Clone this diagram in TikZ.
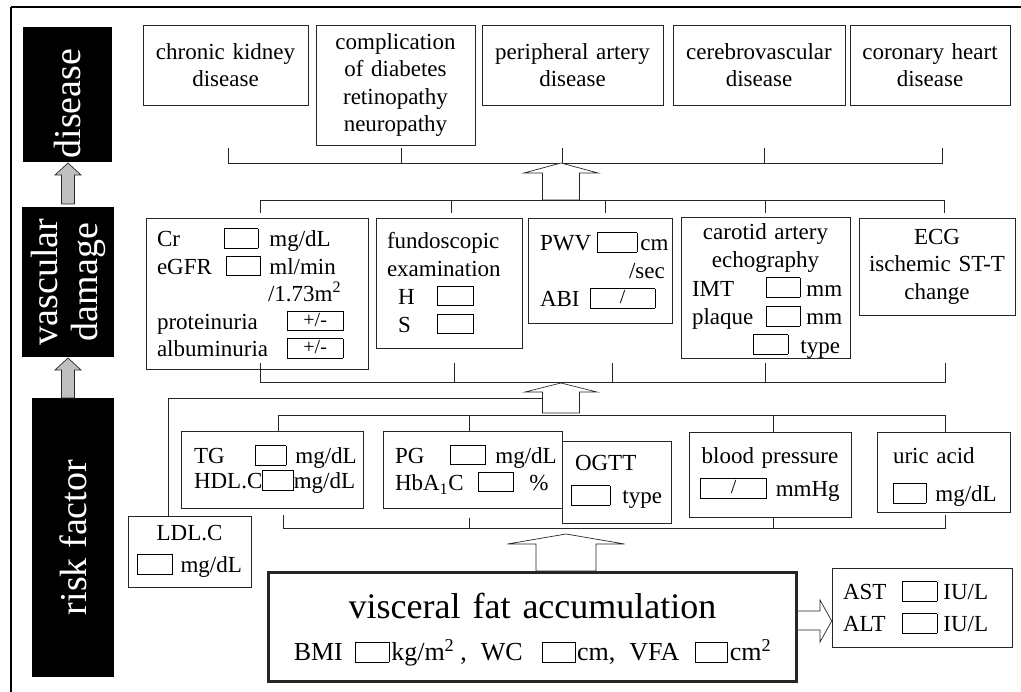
\documentclass[tikz,border=0pt]{standalone}
\usepackage{fontspec}
\setmainfont{Liberation Serif}
\usepackage{tikz}
\newcommand{\fillbox}[2][33pt]{\raisebox{-1pt}{\setlength{\fboxsep}{0pt}\setlength{\fboxrule}{.7pt}%
  \fbox{\makebox[#1]{\rule{0pt}{19pt}\raisebox{4pt}[0pt][0pt]{\fontsize{20}{20}\selectfont#2}}}}}
\newcommand{\fatup}[7][fatarrow]{% x, tip, head base, bottom, head half, shaft half
  \draw[#1] (#2-#7,#5) -- (#2-#7,#4) -- (#2-#6,#4) -- (#2,#3) -- (#2+#6,#4)
    -- (#2+#7,#4) -- (#2+#7,#5) -- cycle;}
\tikzset{
  sidebar/.style={fill=black,text=white,rotate=90,inner sep=0pt,
    font=\fontsize{38}{40}\selectfont},
  dbox/.style={draw=black!85,line width=.6pt,inner sep=0pt,
    font=\fontsize{23}{27.5}\selectfont},
  vfabox/.style={draw=black!85,line width=3pt,inner sep=0pt,align=center,
    font=\fontsize{36}{42}\selectfont},
  bracket/.style={line width=.6pt,draw=black!85},
  fatarrow/.style={draw=black!85,line width=.7pt,fill=white,line join=miter},
  sidearrow/.style={fatarrow,fill=gray!50}
}
\begin{document}
\begin{tikzpicture}[x=1pt,y=-1pt]
\useasboundingbox (0,0) rectangle (1021,692);
% frame
\draw[line width=1.8pt] (1021,7) -- (11,7);
\draw[line width=1.2pt] (11,7) -- (11,692);
% level bars
\node[sidebar,minimum width=135pt,minimum height=89pt] (disbar) at (67.5,94.5) {disease\hspace*{18pt}};
\node[sidebar,align=center,minimum width=150pt,minimum height=92pt] (vasbar) at (68,282) {vascular\\damage};
\node[sidebar,minimum width=279pt,minimum height=82pt] (riskbar) at (73,537.5) {risk factor};
\fatup[sidearrow]{68}{163}{175}{204}{13}{6.5}
\fatup[sidearrow]{68}{358}{370}{398}{13}{6.5}

% diseases
\node[dbox,align=center,text width=165pt,minimum height=80pt] (ckd) at (225.5,65) {chronic kidney\\disease};
\node[dbox,align=center,text width=159pt,minimum height=120pt] (diab) at (395.5,85) {complication\\of diabetes\\retinopathy\\neuropathy};
\node[dbox,align=center,text width=181pt,minimum height=80pt] (pad) at (572.5,65) {peripheral artery\\disease};
\node[dbox,align=center,text width=172pt,minimum height=80pt] (cvd) at (759,65) {cerebrovascular\\disease};
\node[dbox,align=center,text width=160pt,minimum height=80pt] (chd) at (930,65) {coronary heart\\disease};
\draw[bracket] (228,148) -- (228,163) -- (942,163) -- (942,148);
\foreach \x in {401,562,764} \draw[bracket] (\x,148) -- (\x,163);

% vascular damage
\draw[bracket] (260,213) -- (260,200) -- (944,200) -- (944,213);
\foreach \x in {451,605,765} \draw[bracket] (\x,200) -- (\x,213);
\fatup{561}{163}{173}{200}{37}{18.5}
\node[dbox,align=left,text width=222pt,minimum height=151pt] (cr) at (257,293.5)
  {\hspace*{11pt}\makebox[67pt][l]{Cr}\fillbox{}\hspace*{11pt}mg/dL\\
   \hspace*{11pt}\makebox[69pt][l]{eGFR}\fillbox{}\hspace*{9pt}ml/min\\
   \hspace*{122pt}/1.73m\textsuperscript{2}\\
   \hspace*{11pt}\makebox[130pt][l]{proteinuria}\fillbox[55pt]{+/-}\\
   \hspace*{11pt}\makebox[130pt][l]{albuminuria}\fillbox[55pt]{+/-}};
\node[dbox,align=left,text width=146pt,minimum height=130pt,font=\fontsize{23}{28}\selectfont] (fund) at (449,283)
  {\hspace*{11pt}fundoscopic\\
   \hspace*{11pt}examination\\
   \hspace*{22pt}\makebox[39pt][l]{H}\fillbox[35pt]{}\\
   \hspace*{22pt}\makebox[39pt][l]{S}\fillbox[35pt]{}};
\node[dbox,align=left,text width=144pt,minimum height=105pt,font=\fontsize{23}{28}\selectfont] (pwv) at (600,270.5)
  {\hspace*{12pt}\makebox[57pt][l]{PWV}\fillbox[39pt]{}\hspace*{3pt}cm\\
   \hspace*{101pt}/sec\\
   \hspace*{12pt}\makebox[50pt][l]{ABI}\fillbox[64pt]{/}};
\node[dbox,align=left,text width=169pt,minimum height=139pt,font=\fontsize{23}{28.5}\selectfont] (car) at (765.5,287.5)
  {\rule{0pt}{22pt}\makebox[169pt]{carotid artery}\\
   \makebox[169pt]{echography}\\
   \hspace*{11pt}\makebox[74pt][l]{IMT}\fillbox{}\hspace*{6pt}mm\\
   \hspace*{11pt}\makebox[74pt][l]{plaque}\fillbox{}\hspace*{6pt}mm\\
   \hspace*{72pt}\fillbox[34pt]{}\hspace*{12pt}type};
\node[dbox,align=center,text width=156pt,minimum height=97pt] (ecg) at (937,266.5)
  {ECG\\ischemic ST-T\\change};
\draw[bracket] (260,363) -- (260,382) -- (945,382) -- (945,363);
\foreach \x in {454,612,765} \draw[bracket] (\x,363) -- (\x,382);

% risk factors
\draw[bracket] (168,516) -- (168,398) -- (542,398);
\draw[bracket] (278,431) -- (278,415) -- (945,415) -- (945,432);
\foreach \x/\y in {469/431,773/432} \draw[bracket] (\x,415) -- (\x,\y);
\fatup{561}{383}{392}{413}{36}{18.5}
\node[dbox,align=left,text width=182pt,minimum height=77pt,font=\fontsize{23}{25}\selectfont] (tg) at (272,469.5)
  {\hspace*{13pt}\makebox[61pt][l]{TG}\fillbox[30pt]{}\hspace*{9pt}mg/dL\\
   \hspace*{13pt}HDL.C\fillbox[30pt]{}mg/dL};
\node[dbox,align=left,text width=179pt,minimum height=77pt,font=\fontsize{23}{27}\selectfont] (pg) at (472.5,469.5)
  {\hspace*{12pt}\makebox[55pt][l]{PG}\fillbox[34pt]{}\hspace*{10pt}mg/dL\\
   \hspace*{12pt}\makebox[83pt][l]{HbA\textsubscript{1}C}\fillbox[34pt]{}\hspace*{16pt}\%};
\node[dbox,fill=white,align=left,text width=109pt,minimum height=82pt] (ogtt) at (616.5,482)
  {\hspace*{13pt}OGTT\\[6pt]
   \hspace*{9pt}\fillbox[38pt]{}\hspace*{12pt}type};
\node[dbox,align=center,text width=162pt,minimum height=85pt] (bp) at (770,474.5)
  {blood pressure\\[6pt]
   \fillbox[65pt]{/}\hspace*{9pt}mmHg};
\node[dbox,align=left,text width=133pt,minimum height=80pt] (ua) at (943.5,472)
  {\rule{0pt}{26pt}\hspace*{16pt}uric acid\\[11pt]
   \hspace*{16pt}\fillbox[32pt]{}\hspace*{9pt}mg/dL};
\node[dbox,align=center,text width=123pt,minimum height=71pt] (ldl) at (189.5,551.5)
  {LDL.C\\[5pt]
   \fillbox[34pt]{}\hspace*{8pt}mg/dL};
\draw[bracket] (283,515) -- (283,528) -- (945,528) -- (945,515);
\foreach \x in {469,773} \draw[bracket] (\x,518) -- (\x,528);

% visceral fat
\fatup{566}{534}{544}{571}{58.5}{30}
\node[vfabox,text width=528pt,minimum height=109pt] (vfa) at (532.5,627)
  {visceral fat accumulation\\
   \raisebox{0pt}[\height][0pt]{\fontsize{26}{42}\selectfont BMI\hspace{12pt}\fillbox{}\hspace{2pt}kg/m\textsuperscript{2}\hspace{6pt},\hspace{14pt}WC\hspace{19pt}\fillbox{}\hspace{1pt}cm,\hspace{14pt}VFA\hspace{16pt}\fillbox[31pt]{}\hspace{2pt}cm\textsuperscript{2}}};
\node[dbox,align=left,text width=180pt,minimum height=79pt,font=\fontsize{23}{32}\selectfont] (liver) at (922,607.5)
  {\hspace*{11pt}\makebox[59pt][l]{AST}\fillbox[34pt]{}\hspace*{6pt}IU/L\\
   \hspace*{11pt}\makebox[59pt][l]{ALT}\fillbox[34pt]{}\hspace*{6pt}IU/L};
\draw[fatarrow] (vfa.east |- 0,611) -- (820,611) -- (820,600) -- (liver.west |- 0,621)
  -- (820,642) -- (820,630) -- (vfa.east |- 0,630);
\end{tikzpicture}
\end{document}
